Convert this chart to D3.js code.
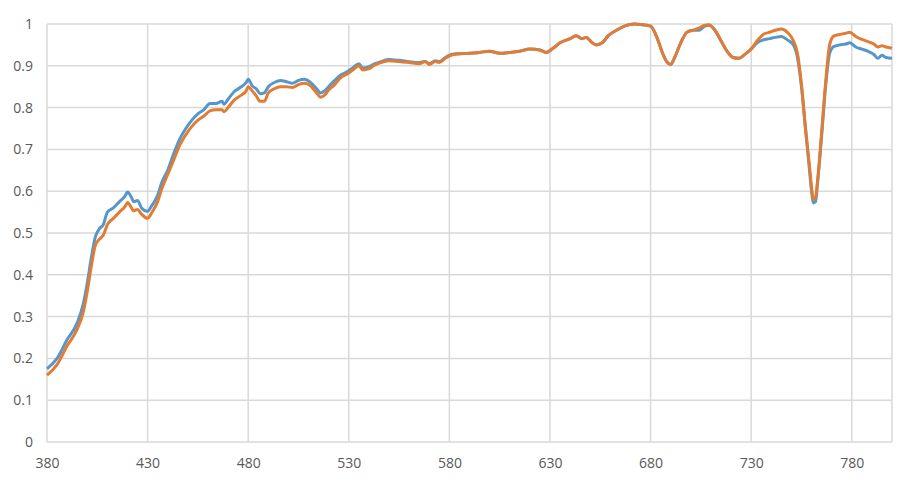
<!DOCTYPE html>
<html>
<head>
<meta charset="utf-8">
<script src="https://cdn.jsdelivr.net/npm/d3@7"></script>
<style>
  body { margin: 0; background: #fff; }
  text { font-family: "Open Sans", "Noto Sans", sans-serif; }
</style>
</head>
<body>
<div id="vis"></div>
<script>
// wavelength (nm)
const wavelengths = [380,385,390,395,398,400,402,404,406,408,410,413,416,419,420,422,423,425,427,430,
  432,435,437,440,443,446,449,452,455,458,461,464,467,468,470,473,476,479,480,482,
  484,486,488,490,493,496,499,502,505,508,511,514,516,518,520,523,526,529,532,535,
  537,540,543,546,550,555,560,565,568,570,573,575,578,582,590,595,600,605,610,615,
  620,625,628,631,635,640,643,646,648,651,653,656,659,663,667,672,676,680,683,686,
  688,690,692,695,698,701,704,707,709,712,715,718,721,724,727,730,733,736,739,742,
  745,748,751,753,755,757,759,760,761,762,763,765,767,769,771,774,777,779,782,785,
  788,791,793,795,797,800];

const seriesBlue = [0.175,0.20,0.245,0.285,0.33,0.38,0.44,0.49,0.51,0.52,0.55,0.56,0.575,0.59,0.598,0.585,0.575,0.578,0.56,0.552,
  0.565,0.59,0.62,0.65,0.69,0.725,0.75,0.77,0.785,0.795,0.81,0.81,0.815,0.808,0.82,0.838,0.848,0.86,0.868,0.852,
  0.845,0.833,0.835,0.85,0.86,0.865,0.862,0.858,0.865,0.868,0.86,0.845,0.835,0.84,0.85,0.865,0.878,0.885,0.895,0.905,
  0.895,0.898,0.905,0.91,0.915,0.913,0.91,0.908,0.91,0.905,0.912,0.91,0.92,0.928,0.93,0.932,0.935,0.93,0.932,0.935,
  0.94,0.938,0.932,0.94,0.955,0.965,0.972,0.965,0.968,0.955,0.95,0.955,0.972,0.985,0.995,1.0,0.998,0.995,0.97,0.93,
  0.91,0.903,0.92,0.955,0.98,0.985,0.985,0.995,0.997,0.985,0.96,0.935,0.92,0.918,0.928,0.94,0.955,0.962,0.965,0.968,
  0.97,0.962,0.95,0.92,0.85,0.75,0.65,0.6,0.572,0.575,0.62,0.73,0.85,0.93,0.946,0.95,0.952,0.955,0.945,0.94,
  0.935,0.927,0.918,0.925,0.92,0.918];

const seriesOrange = [0.16,0.185,0.23,0.27,0.31,0.36,0.42,0.47,0.485,0.495,0.52,0.535,0.55,0.565,0.573,0.56,0.553,0.556,0.545,0.535,
  0.548,0.575,0.605,0.64,0.675,0.71,0.735,0.755,0.77,0.78,0.792,0.795,0.795,0.79,0.80,0.818,0.828,0.84,0.85,0.84,
  0.828,0.815,0.815,0.835,0.845,0.85,0.85,0.848,0.855,0.858,0.852,0.835,0.825,0.83,0.842,0.855,0.872,0.88,0.89,0.9,
  0.89,0.893,0.902,0.908,0.912,0.91,0.908,0.905,0.91,0.903,0.91,0.908,0.918,0.927,0.93,0.932,0.935,0.93,0.932,0.935,
  0.94,0.938,0.932,0.94,0.955,0.965,0.972,0.965,0.968,0.955,0.95,0.955,0.972,0.985,0.995,1.0,0.998,0.995,0.97,0.93,
  0.91,0.903,0.92,0.955,0.98,0.985,0.99,0.997,0.998,0.985,0.96,0.935,0.92,0.918,0.928,0.94,0.96,0.975,0.98,0.985,
  0.988,0.98,0.96,0.93,0.855,0.75,0.66,0.61,0.58,0.585,0.625,0.74,0.86,0.95,0.971,0.975,0.978,0.98,0.97,0.963,
  0.958,0.952,0.945,0.948,0.945,0.942];

const xTicks = [380,430,480,530,580,630,680,730,780];
const yTicks = [0,0.1,0.2,0.3,0.4,0.5,0.6,0.7,0.8,0.9,1];

const width = 912, height = 486;
const plot = { left: 47, right: 892, top: 24, bottom: 442 };

const svg = d3.select("#vis").append("svg")
  .attr("width", width)
  .attr("height", height);

const x = d3.scaleLinear().domain([380, 800]).range([plot.left, plot.right]);
const y = d3.scaleLinear().domain([0, 1]).range([plot.bottom, plot.top]);

// gridlines
const grid = svg.append("g").attr("stroke", "#d9d9d9").attr("stroke-width", 1.5);
grid.selectAll(".hg").data(yTicks).join("line")
  .attr("x1", plot.left).attr("x2", plot.right)
  .attr("y1", d => y(d)).attr("y2", d => y(d));
grid.selectAll(".vg").data(xTicks.concat([800])).join("line")
  .attr("y1", plot.top).attr("y2", plot.bottom)
  .attr("x1", d => x(d)).attr("x2", d => x(d));

// y axis labels
svg.append("g")
  .attr("transform", `translate(${plot.left},0)`)
  .call(d3.axisLeft(y).tickValues(yTicks).tickSize(0).tickPadding(14).tickFormat(d => d3.format("~g")(d)))
  .call(g => g.select(".domain").remove())
  .selectAll("text")
  .attr("fill", "#595959")
  .style("font-size", "14px");

// x axis labels
svg.append("g")
  .attr("transform", `translate(0,${plot.bottom})`)
  .call(d3.axisBottom(x).tickValues(xTicks).tickSize(0).tickPadding(16).tickFormat(d3.format("d")))
  .call(g => g.select(".domain").remove())
  .selectAll("text")
  .attr("fill", "#595959")
  .style("font-size", "14px");

const line = d3.line()
  .x(d => x(d[0]))
  .y(d => y(d[1]))
  .curve(d3.curveMonotoneX);

svg.append("path")
  .datum(wavelengths.map((w, i) => [w, seriesBlue[i]]))
  .attr("fill", "none")
  .attr("stroke", "#5597cc")
  .attr("stroke-width", 3)
  .attr("stroke-linejoin", "round")
  .attr("d", line);

svg.append("path")
  .datum(wavelengths.map((w, i) => [w, seriesOrange[i]]))
  .attr("fill", "none")
  .attr("stroke", "#e27c34")
  .attr("stroke-width", 3)
  .attr("stroke-linejoin", "round")
  .attr("d", line);
</script>
</body>
</html>
